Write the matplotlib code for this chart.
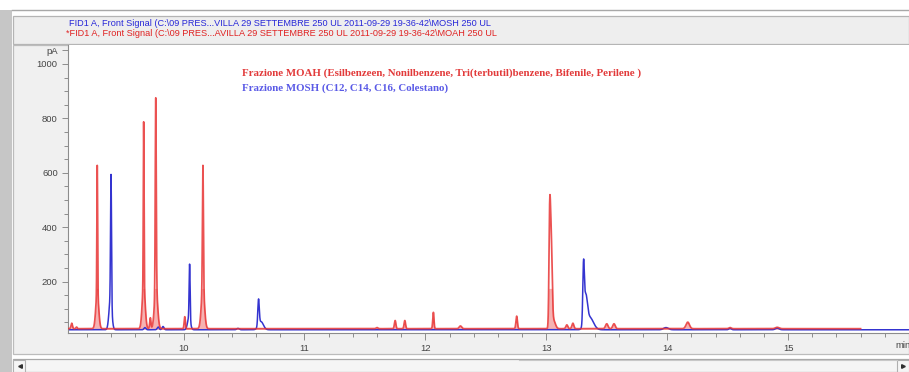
import numpy as np
import matplotlib
matplotlib.use("Agg")
import matplotlib.pyplot as plt
from matplotlib.patches import Rectangle
from matplotlib.lines import Line2D

# ---- chromatogram peak tables: retention time (min), height above baseline (pA), sigma (min)
moah_rt     = [9.075, 9.115, 9.286, 9.286, 9.670, 9.670, 9.725, 9.770, 9.772, 10.010,
               10.160, 10.160, 11.600, 11.750, 11.830, 12.066, 12.290, 12.755,
               13.028, 13.040, 13.060, 13.170, 13.220, 13.500, 13.560, 14.170, 14.520, 14.910]
moah_height = [20, 6, 470, 130, 600, 160, 40, 700, 150, 44,
               450, 150, 4, 30, 30, 60, 10, 46,
               360, 320, 30, 14, 20, 18, 18, 24, 4, 5]
moah_sigma  = [0.006, 0.005, 0.003, 0.012, 0.003, 0.012, 0.005, 0.004, 0.013, 0.005,
               0.004, 0.013, 0.008, 0.006, 0.006, 0.005, 0.010, 0.006,
               0.006, 0.008, 0.015, 0.008, 0.008, 0.010, 0.010, 0.014, 0.010, 0.015]
moah_baseline = 27
moah_start, moah_end = 9.04, 15.60

mosh_rt     = [9.400, 9.395, 9.680, 9.790, 9.830, 10.050, 10.045, 10.450, 10.620, 10.640,
               13.308, 13.325, 13.360, 13.990, 14.520, 14.910]
mosh_height = [470, 110, 8, 10, 12, 200, 45, 5, 95, 30,
               195, 110, 45, 8, 5, 6]
mosh_sigma  = [0.004, 0.012, 0.008, 0.008, 0.008, 0.004, 0.012, 0.010, 0.006, 0.020,
               0.006, 0.014, 0.030, 0.020, 0.010, 0.015]
mosh_baseline = 23
mosh_start, mosh_end = 9.04, 16.0

x_major = [10, 11, 12, 13, 14, 15]
y_major = [200, 400, 600, 800, 1000]

header_mosh = r"FID1 A, Front Signal (C:\09 PRES...VILLA 29 SETTEMBRE 250 UL 2011-09-29 19-36-42\MOSH 250 UL"
header_moah = r"*FID1 A, Front Signal (C:\09 PRES...AVILLA 29 SETTEMBRE 250 UL 2011-09-29 19-36-42\MOAH 250 UL"
label_moah = "Frazione MOAH (Esilbenzeen, Nonilbenzene, Tri(terbutil)benzene, Bifenile, Perilene )"
label_mosh = "Frazione MOSH (C12, C14, C16, Colestano)"


def trace(start, end, base, rts, heights, sigmas):
    t = np.arange(start, end, 0.0004)
    y = np.full_like(t, float(base))
    for r, h, s in zip(rts, heights, sigmas):
        y += h * np.exp(-0.5 * ((t - r) / s) ** 2)
    return t, y


W, H = 909, 372
fig = plt.figure(figsize=(W / 100, H / 100), dpi=100)
fig.patch.set_facecolor("white")


def fx(x):
    return x / W


def fy(y):
    return 1 - y / H


def rect(x0, y0, x1, y1, fc, ec="none", lw=0.8):
    fig.add_artist(Rectangle((fx(x0), fy(y1)), fx(x1 - x0), (y1 - y0) / H,
                             transform=fig.transFigure, facecolor=fc,
                             edgecolor=ec, linewidth=lw, zorder=-5))


def hline(y, x0, x1, color, lw=0.8):
    fig.add_artist(Line2D([fx(x0), fx(x1)], [fy(y), fy(y)], color=color,
                          linewidth=lw, transform=fig.transFigure, zorder=-4))


# window chrome
rect(0, 10, 12, 372, "#c6c6c6")
hline(10, 12, 909, "#a8a8a8", 1.0)
rect(13, 16.5, 909, 43.5, "#eeeeee", "#b4b4b4", 0.9)
rect(13, 45, 909, 354, "#f0f0f0", "#bcbcbc", 0.9)
rect(13, 358.5, 909, 372, "#f5f5f5", "#a8a8a8", 0.9)
rect(13, 359.5, 25, 372, "#f5f5f5", "#b0b0b0", 0.8)
rect(897, 359.5, 909, 372, "#f5f5f5", "#b0b0b0", 0.8)
hline(359.5, 519, 897, "#c8c8c8", 0.8)
for xa, mk in ((19.5, "<"), (903, ">")):
    fig.add_artist(Line2D([fx(xa)], [fy(366)], marker=mk, markersize=2.6,
                          color="#303030", transform=fig.transFigure))

fig.text(fx(69), fy(24), header_mosh, color="#2727d8", fontsize=6.55,
         family="Liberation Sans", va="center", ha="left")
fig.text(fx(66), fy(33.5), header_moah, color="#e02222", fontsize=6.55,
         family="Liberation Sans", va="center", ha="left")

# chromatogram axes
ax = fig.add_axes([fx(67.5), fy(333.3), fx(909 - 67.5), (333.3 - 45) / H])
ax.set_zorder(5)
ax.set_facecolor("white")

tb, yb = trace(mosh_start, mosh_end, mosh_baseline, mosh_rt, mosh_height, mosh_sigma)
tr, yr = trace(moah_start, moah_end, moah_baseline, moah_rt, moah_height, moah_sigma)

# pale body at the foot of the strong MOAH peaks
ax.fill_between(tr, 24, np.minimum(yr, 175), color="#f6b2b2", lw=0, zorder=1.5)
ax.plot(tb, yb, color="#3434d0", lw=1.1, zorder=2)
ax.plot(tr, yr, color="#e83434", lw=1.25, alpha=0.85, zorder=3)

ax.text(0.2074, 0.903, label_moah, transform=ax.transAxes, color="#e23a3a",
        fontsize=7.85, family="Liberation Serif", weight="bold", va="center", ha="left")
ax.text(0.2074, 0.851, label_mosh, transform=ax.transAxes, color="#5a5ae6",
        fontsize=7.85, family="Liberation Serif", weight="bold", va="center", ha="left")

ax.set_xlim(9.04, 16.0)
ax.set_ylim(10, 1069.5)

ax.set_xticks(x_major)
ax.set_xticklabels([str(v) for v in x_major])
ax.set_xticks(np.arange(9.2, 16.0, 0.2), minor=True)
ax.set_yticks(y_major + [1050])
ax.set_yticklabels([str(v) for v in y_major] + ["pA"])
ax.set_yticks([v for v in range(50, 1050, 50) if v not in y_major], minor=True)

for side in ("top", "right"):
    ax.spines[side].set_visible(False)
for side in ("left", "bottom"):
    ax.spines[side].set_color("#8c8c8c")
    ax.spines[side].set_linewidth(0.8)

ax.tick_params(axis="both", which="both", colors="#8c8c8c", width=0.7,
               labelcolor="#454545", labelsize=6.8)
ax.tick_params(axis="y", which="major", length=4, pad=3)
ax.tick_params(axis="y", which="minor", length=3)
ax.tick_params(axis="x", which="major", length=5, pad=3)
ax.tick_params(axis="x", which="minor", length=3)
for lab in ax.get_xticklabels() + ax.get_yticklabels():
    lab.set_family("Liberation Sans")

fig.text(fx(903), fy(345), "min", color="#454545", fontsize=6.8,
         family="Liberation Sans", va="center", ha="center", zorder=10)

fig.savefig("out.png", dpi=100)
